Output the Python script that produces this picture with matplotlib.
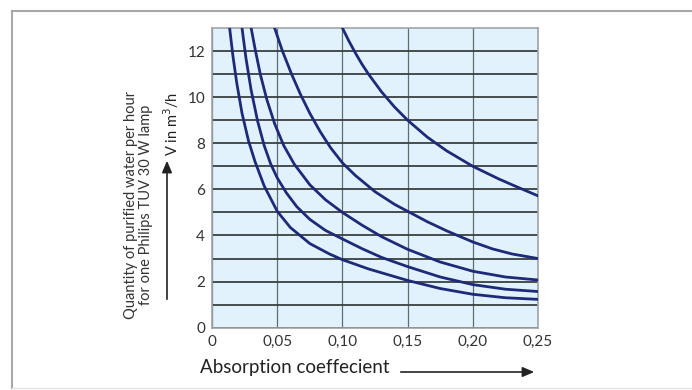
import matplotlib.pyplot as plt
from matplotlib.lines import Line2D
from matplotlib.patches import FancyArrowPatch

plt.rcParams['font.family'] = ['Lato', 'DejaVu Sans']

# curves (absorption coefficient -> V in m3/h)
x_a = [0.100, 0.105, 0.110, 0.115, 0.120, 0.130, 0.140, 0.150, 0.165, 0.180, 0.200, 0.220, 0.235, 0.250]
v_a = [13.0, 12.43, 11.91, 11.43, 11.0, 10.23, 9.57, 9.0, 8.27, 7.67, 7.0, 6.45, 6.08, 5.72]

x_b = [0.048, 0.054, 0.061, 0.068, 0.075, 0.083, 0.091, 0.100, 0.110, 0.125, 0.140, 0.150,
       0.165, 0.180, 0.200, 0.215, 0.230, 0.250]
v_b = [13.0, 12.0, 11.0, 10.1, 9.3, 8.5, 7.8, 7.15, 6.6, 5.9, 5.35, 5.05,
       4.6, 4.2, 3.72, 3.42, 3.2, 3.0]

x_c = [0.030, 0.033, 0.037, 0.042, 0.048, 0.055, 0.063, 0.075, 0.087, 0.100, 0.115, 0.130,
       0.150, 0.175, 0.200, 0.225, 0.250]
v_c = [13.0, 12.1, 11.0, 9.9, 8.85, 7.9, 7.1, 6.2, 5.55, 5.0, 4.45, 3.95,
       3.4, 2.85, 2.45, 2.2, 2.07]

x_d = [0.023, 0.026, 0.030, 0.035, 0.040, 0.045, 0.050, 0.057, 0.065, 0.075, 0.087, 0.100,
       0.115, 0.130, 0.150, 0.175, 0.200, 0.225, 0.250]
v_d = [13.0, 11.7, 10.3, 8.95, 7.9, 7.1, 6.5, 5.85, 5.25, 4.7, 4.22, 3.85,
       3.43, 3.05, 2.65, 2.2, 1.87, 1.67, 1.57]

x_e = [0.0135, 0.016, 0.019, 0.023, 0.028, 0.033, 0.040, 0.050, 0.060, 0.075, 0.090, 0.100,
       0.120, 0.150, 0.175, 0.200, 0.225, 0.250]
v_e = [13.0, 11.8, 10.6, 9.3, 8.1, 7.2, 6.15, 5.05, 4.35, 3.65, 3.2, 2.95,
       2.55, 2.05, 1.7, 1.45, 1.3, 1.23]

curves = [(x_a, v_a), (x_b, v_b), (x_c, v_c), (x_d, v_d), (x_e, v_e)]

x_ticks = [0, 0.05, 0.10, 0.15, 0.20, 0.25]
x_tick_labels = ['0', '0,05', '0,10', '0,15', '0,20', '0,25']
y_ticks = list(range(0, 13))
y_tick_labels = [str(v) if v % 2 == 0 else '' for v in y_ticks]

fig = plt.figure(figsize=(6.92, 3.90), dpi=100)
ax = fig.add_axes([0.3064, 0.1597, 0.4711, 0.7685])
ax.set_facecolor('#e2f2fc')

ax.set_xlim(0, 0.25)
ax.set_ylim(0, 13)
ax.set_xticks(x_ticks)
ax.set_xticklabels(x_tick_labels)
ax.set_yticks(y_ticks)
ax.set_yticklabels(y_tick_labels)
ax.tick_params(length=0, labelsize=11, colors='#333333', pad=5)

# grid: dark horizontals, lighter verticals
ax.grid(axis='y', color='#3a4040', linewidth=1.3, zorder=1)
ax.grid(axis='x', color='#5f6e72', linewidth=0.9, zorder=1)
ax.set_axisbelow(True)
for s in ax.spines.values():
    s.set_color('#a0a4a8')
    s.set_linewidth(1.2)

for xs, vs in curves:
    ax.plot(xs, vs, color='#1e2a78', linewidth=2.0, solid_joinstyle='round', zorder=3)

# x label with arrow
fig.text(200 / 692, 1 - 368 / 390, 'Absorption coeffecient', fontsize=13.5,
         color='#222222', ha='left', va='center')
fig.add_artist(FancyArrowPatch(
    (398 / 692, 1 - 372 / 390), (537 / 692, 1 - 372 / 390),
    transform=fig.transFigure, arrowstyle='-|>,head_length=7,head_width=3',
    color='#222222', linewidth=1.2))

# y label: two lines plus "V in m3/h" with upward arrow
fig.text(131 / 692, 1 - 205 / 390, 'Quantity of purified water per hour',
         rotation=90, fontsize=10.5, color='#333333', ha='center', va='center')
fig.text(146 / 692, 1 - 205 / 390, 'for one Philips TUV 30 W lamp',
         rotation=90, fontsize=10.5, color='#333333', ha='center', va='center')
fig.text(171 / 692, 1 - 124 / 390, 'V in m$^3$/h', rotation=90, fontsize=10.5,
         color='#222222', ha='center', va='center')
fig.add_artist(FancyArrowPatch(
    (167 / 692, 1 - 302 / 390), (167 / 692, 1 - 158 / 390),
    transform=fig.transFigure, arrowstyle='-|>,head_length=7,head_width=3',
    color='#222222', linewidth=1.2))

# outer frame (open on the right)
frame_kw = dict(transform=fig.transFigure, color='#a8a8a8', linewidth=1.5)
fig.add_artist(Line2D([12 / 692, 1], [1 - 11 / 390, 1 - 11 / 390], **frame_kw))
fig.add_artist(Line2D([12 / 692, 12 / 692], [1 - 11 / 390, 1 - 388 / 390], **frame_kw))
fig.add_artist(Line2D([12 / 692, 1], [1 - 388 / 390, 1 - 388 / 390],
                      transform=fig.transFigure, color='#e4e4e4', linewidth=1.0))

fig.savefig('out.png', dpi=100)
